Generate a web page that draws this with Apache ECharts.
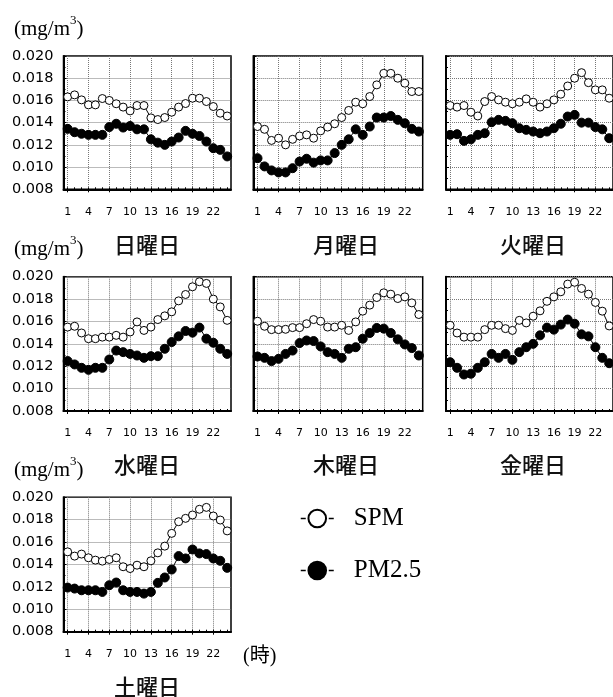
<!DOCTYPE html>
<html>
<head>
<meta charset="utf-8">
<script src="https://cdn.jsdelivr.net/npm/echarts@6/dist/echarts.min.js"></script>
<style>
  html, body { margin: 0; padding: 0; background: #fff; }
  #chart { width: 613px; height: 697px; }
</style>
</head>
<body>
<div id="chart"></div>
<script>
// Hour of day (1-24)
const hours = [1,2,3,4,5,6,7,8,9,10,11,12,13,14,15,16,17,18,19,20,21,22,23,24];
const hourLabels = [1,4,7,10,13,16,19,22];
const dayNames = ['日曜日','月曜日','火曜日','水曜日','木曜日','金曜日','土曜日'];
const seriesNames = ['SPM', 'PM2.5'];

// Hourly mean concentrations (mg/m3) by day of week
const sunSpm = [0.01632,0.0165,0.01605,0.0156,0.0156,0.01617,0.016,0.0157,0.0154,0.01506,0.01554,0.01554,0.01443,0.01428,0.01446,0.01494,0.0154,0.01572,0.0162,0.0162,0.0159,0.01545,0.01485,0.0146];
const sunPm  = [0.01344,0.01314,0.013,0.0129,0.0129,0.0129,0.0136,0.0139,0.01356,0.0137,0.0134,0.0134,0.0125,0.0122,0.012,0.0123,0.01266,0.01326,0.013,0.0128,0.0123,0.0117,0.01155,0.01096];
const monSpm = [0.01365,0.0134,0.0124,0.0126,0.012,0.0125,0.0128,0.0129,0.0126,0.01326,0.0136,0.0139,0.01446,0.0151,0.01584,0.0157,0.01635,0.0174,0.01844,0.01844,0.018,0.01755,0.0168,0.0168];
const monPm  = [0.0108,0.01006,0.0097,0.00952,0.00952,0.0099,0.0105,0.01075,0.0104,0.0106,0.0106,0.01126,0.012,0.0125,0.0134,0.0129,0.01365,0.01446,0.01446,0.0146,0.01425,0.01395,0.01344,0.0132];
const tueSpm = [0.01554,0.0154,0.01554,0.01494,0.0146,0.0159,0.01635,0.01605,0.01584,0.0157,0.01584,0.01614,0.01584,0.0154,0.0157,0.01605,0.01656,0.0173,0.018,0.0185,0.0176,0.01695,0.01695,0.0162];
const tuePm  = [0.0129,0.01296,0.01236,0.0125,0.0129,0.01305,0.01404,0.01425,0.01416,0.01395,0.0135,0.01335,0.0132,0.01305,0.0132,0.0135,0.0139,0.01455,0.0147,0.014,0.014,0.0136,0.0134,0.0126];
const wedSpm = [0.0155,0.01557,0.01497,0.01446,0.01446,0.0146,0.0146,0.01476,0.0146,0.01506,0.01596,0.0152,0.0155,0.01617,0.0165,0.01686,0.01784,0.01841,0.0191,0.01955,0.0194,0.018,0.0173,0.0161];
const wedPm  = [0.01246,0.01216,0.01186,0.01168,0.01186,0.01186,0.0126,0.0134,0.01326,0.0131,0.01296,0.01275,0.0129,0.0129,0.01356,0.01416,0.01467,0.01515,0.015,0.01545,0.01446,0.0141,0.01356,0.0131];
const thuSpm = [0.01602,0.01557,0.01527,0.01527,0.0153,0.01545,0.01545,0.0158,0.01617,0.01602,0.0155,0.0155,0.01566,0.0152,0.01596,0.01692,0.01746,0.01814,0.01856,0.01844,0.01805,0.0182,0.01766,0.01662];
const thuPm  = [0.01287,0.01275,0.01246,0.01266,0.0131,0.0134,0.01407,0.0143,0.01425,0.01377,0.01326,0.0131,0.01275,0.01356,0.0137,0.01446,0.01497,0.01542,0.01536,0.01497,0.0144,0.01395,0.01362,0.01296];
const friSpm = [0.01566,0.01497,0.0146,0.0146,0.0146,0.01527,0.01566,0.01566,0.01536,0.0152,0.0161,0.01587,0.01647,0.01695,0.0178,0.0182,0.01865,0.01934,0.0195,0.01895,0.01844,0.0177,0.01692,0.0156];
const friPm  = [0.01236,0.01186,0.01126,0.01133,0.01186,0.01236,0.0131,0.01275,0.0131,0.01257,0.01326,0.0137,0.014,0.01476,0.01545,0.01527,0.01572,0.01617,0.0158,0.01485,0.01467,0.0137,0.01275,0.01227];
const satSpm = [0.01513,0.01475,0.01493,0.0146,0.01439,0.0143,0.01445,0.0146,0.0138,0.01364,0.01394,0.0138,0.01433,0.01504,0.01564,0.01678,0.01782,0.01812,0.01842,0.01893,0.0191,0.01833,0.01797,0.017];
const satPm  = [0.01194,0.01185,0.0117,0.0117,0.0117,0.01155,0.01215,0.01239,0.0117,0.01155,0.01155,0.0114,0.01155,0.01236,0.01284,0.01355,0.01475,0.01454,0.01534,0.01499,0.01493,0.01454,0.01433,0.0137];

const spmByDay = [sunSpm, monSpm, tueSpm, wedSpm, thuSpm, friSpm, satSpm];
const pmByDay  = [sunPm, monPm, tuePm, wedPm, thuPm, friPm, satPm];

// Panel layout: 3 columns x 3 rows, last row holds one panel
const colLeft  = [63.5, 253.3, 446];
const colWidth = [167.5, 169.4, 168];
const rowTop   = [56, 276.7, 497.3];
const rowHeight = [133.3, 134.3, 134.4];
const titleY = [245, 465, 687];
const titleX = [147, 346, 533];

const SANS = 'DejaVu Sans';
const SERIF = 'Liberation Serif';
const CJK = 'Noto Sans CJK JP';

const grids = [], xAxes = [], yAxes = [], series = [], graphics = [];

dayNames.forEach((day, i) => {
  const c = i % 3, r = Math.floor(i / 3);
  grids.push({
    left: colLeft[c], top: rowTop[r], width: colWidth[c], height: rowHeight[r],
    show: true, borderColor: '#000', borderWidth: 1.5, backgroundColor: 'transparent'
  });
  // main hour axis: labels, ticks and vertical grid lines every 3 h
  xAxes.push({
    type: 'value', gridIndex: i, min: 0.4, max: 24.55, position: 'bottom',
    axisLine: { show: true, lineStyle: { color: '#000', width: 2 } },
    axisTick: { show: true, customValues: hourLabels, length: 3, inside: false, lineStyle: { color: '#000', width: 1 } },
    axisLabel: { customValues: hourLabels, fontFamily: SANS, fontSize: 11, color: '#000', margin: 17 },
    splitLine: { show: true, lineStyle: { color: '#777', type: 'dotted', width: 1 } }
  });
  // small hourly ticks
  xAxes.push({
    type: 'value', gridIndex: i, min: 0.4, max: 24.55, position: 'bottom',
    axisLine: { show: false },
    axisTick: { show: true, customValues: hours, length: 2, inside: true, lineStyle: { color: '#000', width: 1 } },
    axisLabel: { show: false },
    splitLine: { show: false }
  });
  yAxes.push({
    type: 'value', gridIndex: i, min: 0.008, max: 0.020, interval: 0.002,
    axisLine: { show: true, lineStyle: { color: '#000', width: 2 } },
    axisTick: { show: true, length: 3, inside: true, lineStyle: { color: '#000' } },
    minorTick: { show: true, splitNumber: 2, length: 2, lineStyle: { color: '#000' } },
    axisLabel: {
      show: c === 0, fontFamily: SANS, fontSize: 14.5, color: '#000', margin: 10,
      formatter: v => v.toFixed(3)
    },
    splitLine: { show: true, lineStyle: { color: '#777', type: 'dotted', width: 1 } }
  });
  series.push({
    name: seriesNames[0], type: 'line', xAxisIndex: i * 2, yAxisIndex: i,
    data: hours.map((h, k) => [h, spmByDay[i][k]]),
    symbol: 'circle', symbolSize: 8, z: 3,
    lineStyle: { color: '#000', width: 1 },
    itemStyle: { color: '#fff', borderColor: '#000', borderWidth: 1 },
    animation: false
  });
  series.push({
    name: seriesNames[1], type: 'line', xAxisIndex: i * 2, yAxisIndex: i,
    data: hours.map((h, k) => [h, pmByDay[i][k]]),
    symbol: 'circle', symbolSize: 9, z: 4,
    lineStyle: { color: '#000', width: 1 },
    itemStyle: { color: '#000', borderColor: '#000', borderWidth: 1 },
    animation: false
  });
  graphics.push({
    type: 'text', x: titleX[c], y: titleY[r],
    style: { text: day, font: '500 22px "' + CJK + '"', fill: '#111', align: 'center', verticalAlign: 'middle' }
  });
});

// unit labels with raised exponent
[27, 247, 468].forEach(y => {
  graphics.push({
    type: 'text', x: 14, y: y,
    style: {
      text: '{a|(mg/m}{s|3}{a|)}', align: 'left', verticalAlign: 'middle',
      rich: {
        a: { fontFamily: SERIF, fontSize: 21, lineHeight: 26, fill: '#000', verticalAlign: 'bottom' },
        s: { fontFamily: SERIF, fontSize: 13, lineHeight: 26, fill: '#000', verticalAlign: 'top', padding: [0, 0, 10, 0] }
      }
    }
  });
});
graphics.push({
  type: 'text', x: 243, y: 657,
  style: { text: '(時)', font: '20px "' + SERIF + '", "' + CJK + '"', fill: '#000', align: 'left', verticalAlign: 'middle' }
});

const chart = echarts.init(document.getElementById('chart'), null, { renderer: 'canvas' });
chart.setOption({
  animation: false,
  backgroundColor: '#fff',
  grid: grids,
  xAxis: xAxes,
  yAxis: yAxes,
  series: series,
  legend: {
    data: seriesNames,
    orient: 'vertical', left: 295, top: 501,
    itemWidth: 33, itemHeight: 22, itemGap: 27,
    lineStyle: { width: 1.5, type: [5, 23] },
    textStyle: { fontFamily: SERIF, fontSize: 25, color: '#000', padding: [0, 0, 0, 15] },
    selectedMode: false
  },
  graphic: graphics
});
</script>
</body>
</html>
